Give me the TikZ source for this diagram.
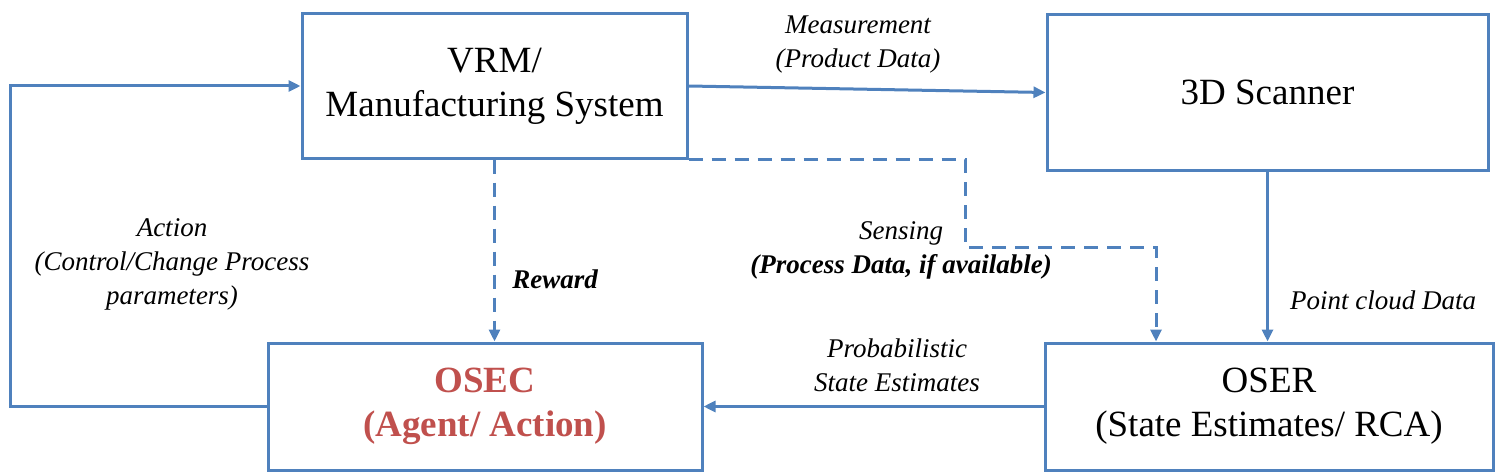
\documentclass[tikz,border=0pt]{standalone}
\usepackage{fontspec}
\setmainfont{Liberation Serif}
\usetikzlibrary{arrows.meta, positioning}
\definecolor{lineblue}{HTML}{4F81BD}
\definecolor{agentred}{HTML}{C0504D}

\begin{document}
\begin{tikzpicture}[
  x=0.5pt, y=-0.5pt,
  box/.style={draw=lineblue, line width=1.5pt, align=center, inner sep=2pt, font=\fontsize{18.5}{22}\selectfont},
  lbl/.style={align=center, font=\fontsize{13.5}{17}\selectfont\itshape},
  arrow/.style={-{Triangle[length=6pt, width=5.5pt]}, draw=lineblue, line width=1.5pt},
  dasharrow/.style={arrow, dash pattern=on 7pt off 4.5pt},
]
  \useasboundingbox (0,0) rectangle (1503,476);
  \node[box, minimum width=192.5pt, minimum height=72pt] (vrm) at (494.5,86) {VRM/\\Manufacturing System};
  \node[box, minimum width=220.5pt, minimum height=77.5pt] (scanner) at (1267.5,92.5) {3D Scanner};
  \node[box, minimum width=217pt, minimum height=63.5pt, text=agentred, font=\fontsize{18.5}{22}\selectfont\bfseries] (osec) at (485,406.5) {OSEC\\(Agent/ Action)};
  \node[box, minimum width=224pt, minimum height=63.5pt, right=170pt of osec] (oser) {OSER\\(State Estimates/ RCA)};

  \coordinate (loop) at (10,406.5);
  \coordinate (bend) at (965,247);
  \draw[arrow] (vrm.east) -- (scanner.west);
  \draw[arrow] (osec.west) -- (loop) |- (vrm.west);
  \draw[dasharrow] (vrm.south) -- (vrm.south |- osec.north);
  \draw[dasharrow] (vrm.south east) -| (bend) -| ([xshift=-56.5pt]oser.north);
  \draw[arrow] (scanner.south) -- (scanner.south |- oser.north);
  \draw[arrow] (oser.west) -- (osec.east);

  \node[lbl] (meas) at (858,45) {Measurement\\(Product Data)};
  \node[lbl] (action) at (172,264) {Action\\(Control/Change Process\\parameters)};
  \node[lbl, font=\fontsize{13.5}{17}\selectfont\bfseries\itshape] (reward) at (555,279) {Reward};
  \node[lbl] (sensing) at (901,250) {Sensing\\\textbf{(Process Data, if available)}};
  \node[lbl] (pcloud) at (1383,300) {Point cloud Data};
  \node[lbl] (prob) at (897,365.5) {Probabilistic\\State Estimates};
\end{tikzpicture}
\end{document}
